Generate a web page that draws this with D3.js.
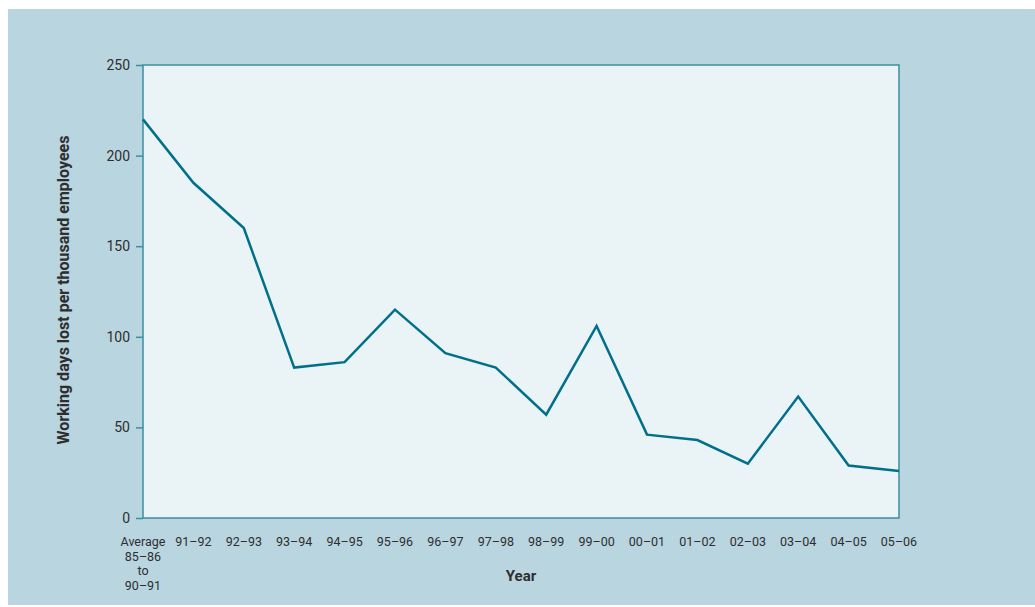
<!DOCTYPE html>
<html>
<head>
<meta charset="utf-8">
<script src="https://cdn.jsdelivr.net/npm/d3@7"></script>
<style>
  body { margin: 0; background: #fff; }
  text { font-family: "Roboto", sans-serif; fill: #2e2e2e; }
</style>
</head>
<body>
<div id="chart"></div>
<script>
// ******* data *******
var years = ["Average\n85–86\nto\n90–91", "91–92", "92–93", "93–94", "94–95", "95–96", "96–97",
  "97–98", "98–99", "99–00", "00–01", "01–02", "02–03", "03–04", "04–05", "05–06"];
var daysLost = [220, 185, 160, 83, 86, 115, 91, 83, 57, 106, 46, 43, 30, 67, 29, 26];
var yTicks = [0, 50, 100, 150, 200, 250];

// ******* set up *******
var w = 1035, h = 607;
var plotLeft = 143, plotRight = 899, plotTop = 65, plotBottom = 518;
var axisColour = "#3b8ea3";
var lineColour = "#00708a";

var svg = d3.select("#chart").append("svg").attr("width", w).attr("height", h);

// background panel
svg.append("rect").attr("x", 8).attr("y", 9).attr("width", w - 8).attr("height", 596)
  .attr("fill", "#b8d5e0");

// plot area
svg.append("rect").attr("x", plotLeft).attr("y", plotTop)
  .attr("width", plotRight - plotLeft).attr("height", plotBottom - plotTop)
  .attr("fill", "#eaf3f6").attr("stroke", axisColour).attr("stroke-width", 1.5);

var x = d3.scalePoint().domain(years).range([plotLeft, plotRight]);
var y = d3.scaleLinear().domain([0, 250]).range([plotBottom, plotTop]);

// y axis ticks
var yAxis = svg.append("g").attr("transform", `translate(${plotLeft},0)`)
  .call(d3.axisLeft(y).tickValues(yTicks).tickSize(7).tickPadding(6));
yAxis.select(".domain").remove();
yAxis.selectAll(".tick line").attr("stroke", axisColour).attr("stroke-width", 1.5);
yAxis.selectAll(".tick text").style("font-size", "14px").attr("fill", "#333")
  .style("font-family", "Roboto, sans-serif");

// x labels (multi-line for the first one)
var xl = svg.append("g").selectAll("text").data(years).enter().append("text")
  .attr("x", d => x(d))
  .attr("y", 546)
  .attr("text-anchor", "middle")
  .style("font-size", "12.5px");
xl.each(function (d) {
  var parts = d.split("\n");
  var t = d3.select(this);
  parts.forEach((p, i) => {
    t.append("tspan").attr("x", x(d)).attr("dy", i === 0 ? 0 : 14.5).text(p);
  });
});

// axis titles
svg.append("text").attr("x", 521).attr("y", 581).attr("text-anchor", "middle")
  .style("font-size", "15px").style("font-weight", "bold").text("Year");
svg.append("text")
  .attr("transform", "translate(69,290) rotate(-90)")
  .attr("text-anchor", "middle")
  .style("font-size", "16px").style("font-weight", "bold")
  .text("Working days lost per thousand employees");

// ******* line *******
var line = d3.line().x((d, i) => x(years[i])).y(d => y(d));
svg.append("path").datum(daysLost)
  .attr("d", line)
  .attr("fill", "none")
  .attr("stroke", lineColour)
  .attr("stroke-width", 2.5)
  .attr("stroke-linejoin", "miter");
</script>
</body>
</html>
